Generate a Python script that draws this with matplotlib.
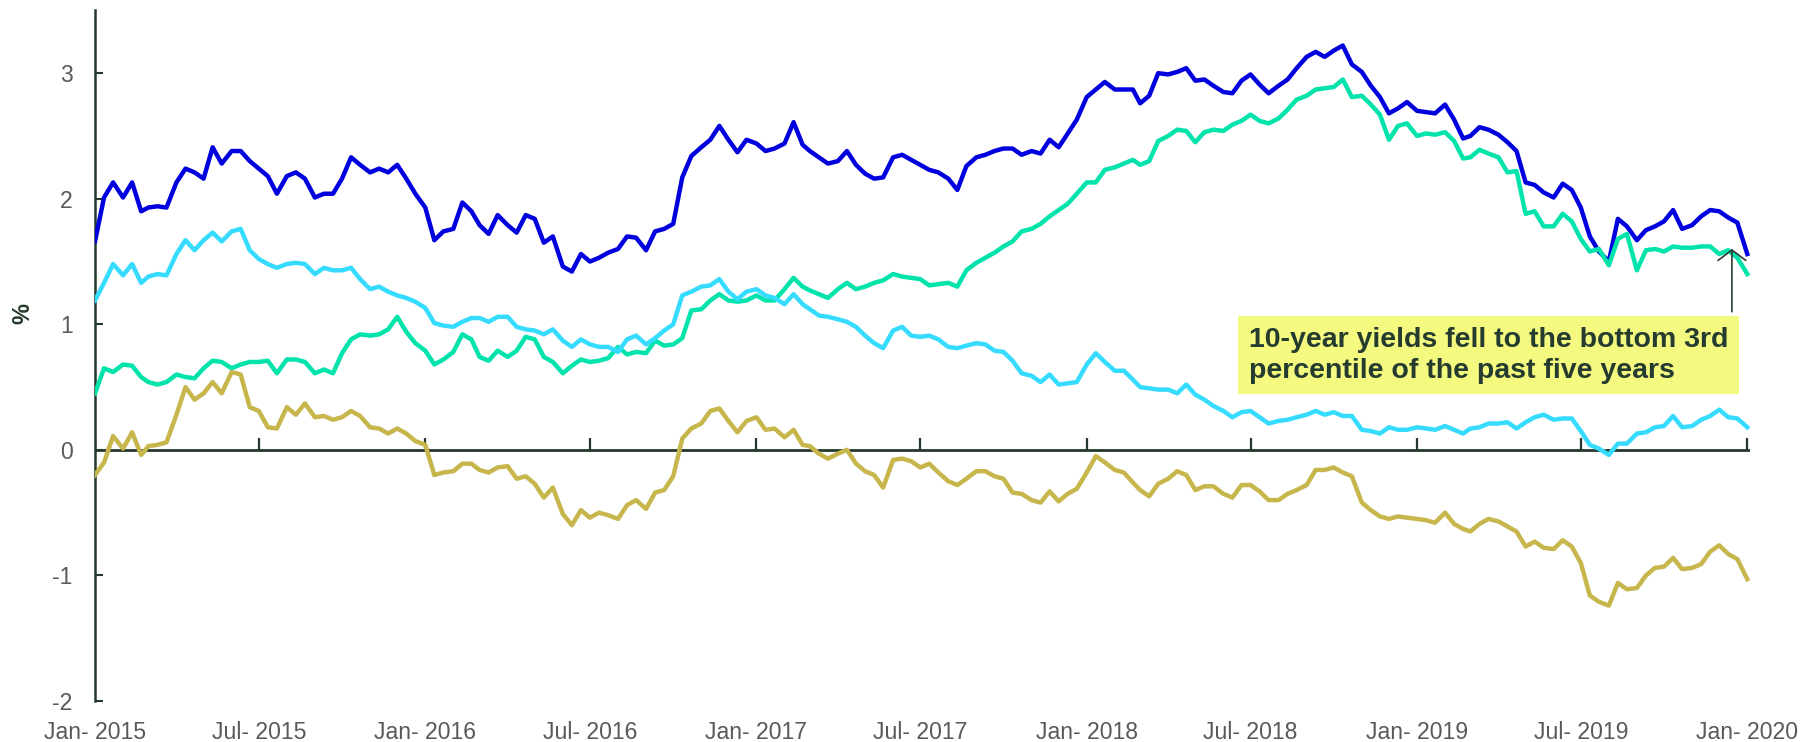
import datetime as dt
import matplotlib
matplotlib.use('Agg')
import matplotlib.pyplot as plt
import matplotlib.dates as mdates

plt.rcParams['font.family'] = ['Liberation Sans', 'DejaVu Sans']
plt.rcParams['axes.unicode_minus'] = False

# sample dates: 1st, 11th and 21st of every month, plus the end point
dates = [dt.date(y, m, d) for y in range(2015, 2020) for m in range(1, 13) for d in (1, 11, 21)]
dates.append(dt.date(2020, 1, 1))

blue = [1.66, 2.01, 2.13, 2.01, 2.13, 1.90, 1.93, 1.94, 1.93, 2.13, 2.24, 2.21, 2.16, 2.41, 2.28, 2.38,
        2.38, 2.30, 2.24, 2.18, 2.04, 2.18, 2.21, 2.16, 2.01, 2.04, 2.04, 2.16, 2.33, 2.27, 2.21, 2.24,
        2.21, 2.27, 2.16, 2.04, 1.93, 1.67, 1.74, 1.76, 1.97, 1.90, 1.79, 1.72, 1.87, 1.79, 1.73,
        1.87, 1.84, 1.65, 1.70, 1.46, 1.42, 1.56, 1.50, 1.53, 1.57, 1.60, 1.70, 1.69, 1.59, 1.74, 1.76,
        1.80, 2.17, 2.34, 2.41, 2.47, 2.58, 2.47, 2.37, 2.47, 2.44, 2.38, 2.40, 2.44, 2.61, 2.43, 2.38,
        2.33, 2.28, 2.30, 2.38, 2.27, 2.20, 2.16, 2.17, 2.33, 2.35, 2.31, 2.27,
        2.23, 2.21, 2.16, 2.07, 2.26, 2.33, 2.35, 2.38, 2.40, 2.40, 2.35, 2.38, 2.36, 2.47, 2.41, 2.52,
        2.63, 2.81, 2.87, 2.93, 2.87, 2.87, 2.87, 2.76, 2.82, 3.00, 2.99, 3.01, 3.04, 2.94, 2.95, 2.90,
        2.85, 2.84, 2.94, 2.99, 2.91, 2.84, 2.90, 2.95, 3.04, 3.13, 3.17, 3.13, 3.18,
        3.22, 3.07, 3.01, 2.90, 2.81, 2.68, 2.72, 2.77, 2.70, 2.69, 2.68, 2.75, 2.63, 2.48, 2.50, 2.57,
        2.55, 2.51, 2.45, 2.38, 2.13, 2.11, 2.05, 2.01, 2.12, 2.07, 1.93, 1.70, 1.58, 1.50, 1.84, 1.78,
        1.67, 1.75, 1.78, 1.82, 1.91, 1.76, 1.79, 1.86, 1.91, 1.90, 1.85, 1.81, 1.56]

cyan = [1.19, 1.33, 1.48, 1.39, 1.48, 1.33, 1.38, 1.40, 1.39, 1.56, 1.67, 1.59, 1.67, 1.73, 1.66, 1.74,
        1.76, 1.59, 1.52, 1.48, 1.45, 1.48, 1.49, 1.48, 1.40, 1.45, 1.43, 1.43, 1.45, 1.36, 1.28, 1.30,
        1.26, 1.23, 1.21, 1.18, 1.13, 1.01, 0.99, 0.98, 1.02, 1.05, 1.05, 1.02, 1.06, 1.06, 0.98,
        0.96, 0.95, 0.92, 0.96, 0.87, 0.82, 0.88, 0.84, 0.82, 0.82, 0.78, 0.88, 0.91, 0.84, 0.89, 0.95,
        1.00, 1.23, 1.26, 1.30, 1.31, 1.36, 1.26, 1.20, 1.26, 1.28, 1.23, 1.21, 1.16, 1.24, 1.16, 1.12,
        1.07, 1.06, 1.04, 1.02, 0.98, 0.91, 0.85, 0.81, 0.95, 0.98, 0.91, 0.90,
        0.91, 0.88, 0.82, 0.81, 0.83, 0.85, 0.84, 0.79, 0.78, 0.71, 0.61, 0.59, 0.54, 0.60, 0.52, 0.53,
        0.54, 0.68, 0.77, 0.70, 0.63, 0.63, 0.56, 0.50, 0.49, 0.48, 0.48, 0.45, 0.52, 0.44, 0.40, 0.35,
        0.31, 0.26, 0.30, 0.31, 0.26, 0.21, 0.23, 0.24, 0.26, 0.28, 0.31, 0.28, 0.30,
        0.27, 0.27, 0.16, 0.15, 0.13, 0.18, 0.16, 0.16, 0.18, 0.17, 0.16, 0.19, 0.16, 0.13, 0.17, 0.18,
        0.21, 0.21, 0.22, 0.17, 0.22, 0.26, 0.28, 0.24, 0.25, 0.25, 0.15, 0.04, 0.01, -0.04, 0.05, 0.05,
        0.13, 0.14, 0.18, 0.19, 0.27, 0.18, 0.19, 0.24, 0.27, 0.32, 0.26, 0.25, 0.18]

green = [0.45, 0.65, 0.62, 0.68, 0.67, 0.58, 0.54, 0.52, 0.54, 0.60, 0.58, 0.57, 0.65, 0.71, 0.70, 0.65,
         0.68, 0.70, 0.70, 0.71, 0.61, 0.72, 0.72, 0.70, 0.61, 0.64, 0.61, 0.77, 0.88, 0.92, 0.91, 0.92,
         0.96, 1.06, 0.94, 0.85, 0.79, 0.68, 0.72, 0.78, 0.92, 0.88, 0.74, 0.71, 0.79, 0.74, 0.79,
         0.90, 0.88, 0.74, 0.70, 0.61, 0.67, 0.72, 0.70, 0.71, 0.73, 0.82, 0.76, 0.78, 0.77, 0.87, 0.83,
         0.84, 0.89, 1.11, 1.12, 1.19, 1.24, 1.19, 1.18, 1.19, 1.23, 1.19, 1.19, 1.28, 1.37, 1.30, 1.27,
         1.24, 1.21, 1.28, 1.33, 1.28, 1.30, 1.33, 1.35, 1.40, 1.38, 1.37, 1.36,
         1.31, 1.32, 1.33, 1.30, 1.43, 1.49, 1.53, 1.57, 1.62, 1.66, 1.74, 1.76, 1.80, 1.86, 1.91, 1.96,
         2.04, 2.13, 2.13, 2.23, 2.25, 2.28, 2.31, 2.27, 2.30, 2.46, 2.50, 2.55, 2.54, 2.45, 2.53, 2.55,
         2.54, 2.59, 2.62, 2.67, 2.62, 2.60, 2.64, 2.71, 2.79, 2.82, 2.87, 2.88, 2.89,
         2.95, 2.81, 2.82, 2.75, 2.67, 2.47, 2.58, 2.60, 2.50, 2.52, 2.51, 2.53, 2.46, 2.32, 2.33, 2.39,
         2.36, 2.33, 2.21, 2.22, 1.88, 1.90, 1.78, 1.78, 1.88, 1.82, 1.68, 1.58, 1.60, 1.47, 1.68, 1.72,
         1.43, 1.59, 1.60, 1.58, 1.62, 1.61, 1.61, 1.62, 1.62, 1.56, 1.59, 1.53, 1.40]

olive = [-0.20, -0.10, 0.11, 0.01, 0.14, -0.04, 0.03, 0.04, 0.06, 0.28, 0.50, 0.40, 0.45, 0.54, 0.45, 0.62,
         0.60, 0.34, 0.31, 0.18, 0.17, 0.34, 0.28, 0.37, 0.26, 0.27, 0.24, 0.26, 0.31, 0.27, 0.18, 0.17,
         0.13, 0.17, 0.13, 0.07, 0.04, -0.20, -0.18, -0.17, -0.11, -0.11, -0.16, -0.18, -0.14, -0.13, -0.23,
         -0.21, -0.27, -0.38, -0.30, -0.51, -0.60, -0.48, -0.54, -0.50, -0.52, -0.55, -0.44, -0.40, -0.47,
         -0.34, -0.32, -0.21, 0.09, 0.17, 0.21, 0.31, 0.33, 0.23, 0.14, 0.23, 0.26, 0.16, 0.17, 0.10, 0.16,
         0.04, 0.03, -0.03, -0.07, -0.03, 0.00, -0.11, -0.17, -0.20, -0.30, -0.08, -0.07, -0.09, -0.14,
         -0.11, -0.18, -0.25, -0.28, -0.23, -0.17, -0.17, -0.21, -0.23, -0.34, -0.35, -0.40, -0.42, -0.33,
         -0.41, -0.35, -0.31, -0.18, -0.05, -0.10, -0.16, -0.18, -0.26, -0.32, -0.37, -0.27, -0.23, -0.17,
         -0.20, -0.32, -0.29, -0.29, -0.35, -0.38, -0.28, -0.28, -0.33, -0.40, -0.40, -0.35, -0.32, -0.28,
         -0.16, -0.16, -0.14,
         -0.18, -0.21, -0.42, -0.48, -0.53, -0.55, -0.53, -0.54, -0.55, -0.56, -0.58, -0.50, -0.59, -0.63,
         -0.65, -0.59, -0.55, -0.57, -0.61, -0.65, -0.77, -0.73, -0.78, -0.79, -0.72, -0.77, -0.90, -1.16,
         -1.21, -1.24, -1.06, -1.11, -1.10, -1.00, -0.94, -0.93, -0.86, -0.95, -0.94, -0.91, -0.81, -0.76,
         -0.83, -0.87, -1.03]

tick_dates = [dt.date(y, m, 1) for y in range(2015, 2020) for m in (1, 7)] + [dt.date(2020, 1, 1)]
y_ticks = [-2, -1, 0, 1, 2, 3]
note = '10-year yields fell to the bottom 3rd\npercentile of the past five years'

axis_col = '#24392b'
label_col = '#595959'

fig, ax = plt.subplots(figsize=(18.2, 7.42), dpi=100)
fig.subplots_adjust(left=95 / 1820, right=1750 / 1820, bottom=1 - 701 / 742, top=1 - 10.4 / 742)

ax.plot(dates, blue, color='#0000de', lw=3.2, zorder=3)
ax.plot(dates, green, color='#00e3ab', lw=3.2, zorder=3)
ax.plot(dates, cyan, color='#36dcff', lw=3.2, zorder=3)
ax.plot(dates, olive, color='#c6b64c', lw=3.2, zorder=3)

# zero line with its own tick marks pointing up
ax.axhline(0, color=axis_col, lw=2, zorder=2)
ax.plot(tick_dates, [0] * len(tick_dates), ls='none', marker=2, ms=9, mew=1.6, color=axis_col, zorder=2)

ax.set_xlim(dt.date(2015, 1, 1), dt.date(2020, 1, 4))
ax.set_ylim(-2, 3.5)
ax.set_xticks(tick_dates)
ax.xaxis.set_major_formatter(mdates.DateFormatter('%b- %Y'))
ax.set_yticks(y_ticks)
ax.tick_params(axis='x', length=0, pad=14.5, labelsize=16.6, labelcolor=label_col)
ax.tick_params(axis='y', direction='in', length=6, width=1.5, color=axis_col, pad=16,
               labelsize=16.6, labelcolor=label_col)

for s in ['top', 'right', 'bottom']:
    ax.spines[s].set_visible(False)
ax.spines['left'].set_color(axis_col)
ax.spines['left'].set_linewidth(1.8)

fig.text(23 / 1820, 1 - 313 / 742, '%', rotation=90, fontsize=17, fontweight='bold',
         color=axis_col, ha='center', va='center')

ax.text(0.697, 0.501, note, transform=ax.transAxes, fontsize=20.5, fontweight='bold', color='#263b2f',
        ha='left', va='center', linespacing=1.25,
        bbox=dict(boxstyle='square,pad=0.38', fc='#f4fa7f', ec='none'), zorder=4)
ax.annotate('', xy=(dt.date(2019, 12, 15), 1.60), xytext=(dt.date(2019, 12, 15), 1.10),
            arrowprops=dict(arrowstyle='->,head_length=0.75,head_width=1.0', color='#2d3d33', lw=1.2,
                            shrinkA=0, shrinkB=0), zorder=5)

plt.savefig('out.png')
plt.close()
